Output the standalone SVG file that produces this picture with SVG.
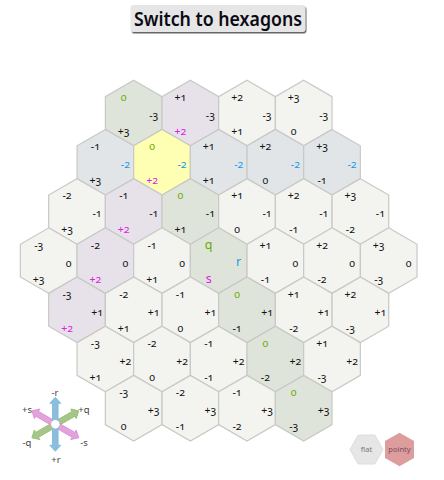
<svg xmlns="http://www.w3.org/2000/svg" width="444" height="480" viewBox="0 0 444 480">
<style>
text{font-family:"Noto Sans","Open Sans",sans-serif;font-variant-numeric:oldstyle-nums;font-size:10.5px;text-anchor:middle;fill:#111;stroke:none}
.h{fill:#f3f4f0;stroke:#c8c8c5;stroke-width:1.2}
.hq{fill:#dfe4da}.hr{fill:#e1e5e8}.hs{fill:#e7e2e9}.hy{fill:#ffffb3}
text.cq{fill:#6aaa00}text.cr{fill:#1a9ae8}text.cs{fill:#e020e0}
text.big{font-size:12.5px}
text.ax{font-size:9.5px;fill:#444}
text.btn{font-size:19.5px;font-weight:600;fill:#0a0a14}
</style>
<defs>
<polygon id="hex" points="0,-32.75 28.34,-16.37 28.34,16.37 0,32.75 -28.34,16.37 -28.34,-16.37"/>
<polygon id="arrow" points="-2.8,-5 -2.8,-21 -5.5,-21 0,-27 5.5,-21 2.8,-21 2.8,-5 2.8,5 2.8,21 5.5,21 0,27 -5.5,21 -2.8,21 -2.8,5"/>
<filter id="sh" x="-5%" y="-20%" width="110%" height="140%"><feDropShadow dx="1" dy="1.5" stdDeviation="0.6" flood-color="#666"/></filter>
</defs>
<g id="switch-button"><rect x="130.5" y="5" width="175" height="27" rx="3" fill="#e6e6e6" filter="url(#sh)"/><text class="btn" x="218" y="26" textLength="168" lengthAdjust="spacingAndGlyphs">Switch to hexagons</text></g>
<g id="hexes">
<g id="h0m3" class="h hq" transform="translate(133.7 113)"><use href="#hex"/><text class="cq" x="-10" y="-12">0</text><text x="20" y="6">-3</text><text x="-10" y="22">+3</text></g>
<g id="h1m3" class="h hs" transform="translate(190.4 113)"><use href="#hex"/><text x="-10" y="-12">+1</text><text x="20" y="6">-3</text><text class="cs" x="-10" y="22">+2</text></g>
<g id="h2m3" class="h" transform="translate(247 113)"><use href="#hex"/><text x="-10" y="-12">+2</text><text x="20" y="6">-3</text><text x="-10" y="22">+1</text></g>
<g id="h3m3" class="h" transform="translate(303.7 113)"><use href="#hex"/><text x="-10" y="-12">+3</text><text x="20" y="6">-3</text><text x="-10" y="22">0</text></g>
<g id="hm1m2" class="h hr" transform="translate(105.4 162.2)"><use href="#hex"/><text x="-10" y="-12">-1</text><text class="cr" x="20" y="6">-2</text><text x="-10" y="22">+3</text></g>
<g id="h0m2" class="h hy" transform="translate(162 162.2)"><use href="#hex"/><text class="cq" x="-10" y="-12">0</text><text class="cr" x="20" y="6">-2</text><text class="cs" x="-10" y="22">+2</text></g>
<g id="h1m2" class="h hr" transform="translate(218.7 162.2)"><use href="#hex"/><text x="-10" y="-12">+1</text><text class="cr" x="20" y="6">-2</text><text x="-10" y="22">+1</text></g>
<g id="h2m2" class="h hr" transform="translate(275.4 162.2)"><use href="#hex"/><text x="-10" y="-12">+2</text><text class="cr" x="20" y="6">-2</text><text x="-10" y="22">0</text></g>
<g id="h3m2" class="h hr" transform="translate(332 162.2)"><use href="#hex"/><text x="-10" y="-12">+3</text><text class="cr" x="20" y="6">-2</text><text x="-10" y="22">-1</text></g>
<g id="hm2m1" class="h" transform="translate(77 211.4)"><use href="#hex"/><text x="-10" y="-12">-2</text><text x="20" y="6">-1</text><text x="-10" y="22">+3</text></g>
<g id="hm1m1" class="h hs" transform="translate(133.7 211.4)"><use href="#hex"/><text x="-10" y="-12">-1</text><text x="20" y="6">-1</text><text class="cs" x="-10" y="22">+2</text></g>
<g id="h0m1" class="h hq" transform="translate(190.4 211.4)"><use href="#hex"/><text class="cq" x="-10" y="-12">0</text><text x="20" y="6">-1</text><text x="-10" y="22">+1</text></g>
<g id="h1m1" class="h" transform="translate(247 211.4)"><use href="#hex"/><text x="-10" y="-12">+1</text><text x="20" y="6">-1</text><text x="-10" y="22">0</text></g>
<g id="h2m1" class="h" transform="translate(303.7 211.4)"><use href="#hex"/><text x="-10" y="-12">+2</text><text x="20" y="6">-1</text><text x="-10" y="22">-1</text></g>
<g id="h3m1" class="h" transform="translate(360.4 211.4)"><use href="#hex"/><text x="-10" y="-12">+3</text><text x="20" y="6">-1</text><text x="-10" y="22">-2</text></g>
<g id="hm3z" class="h" transform="translate(48.7 260.6)"><use href="#hex"/><text x="-10" y="-12">-3</text><text x="20" y="6">0</text><text x="-10" y="22">+3</text></g>
<g id="hm2z" class="h hs" transform="translate(105.4 260.6)"><use href="#hex"/><text x="-10" y="-12">-2</text><text x="20" y="6">0</text><text class="cs" x="-10" y="22">+2</text></g>
<g id="hm1z" class="h" transform="translate(162 260.6)"><use href="#hex"/><text x="-10" y="-12">-1</text><text x="20" y="6">0</text><text x="-10" y="22">+1</text></g>
<g id="h0z" class="h hq" transform="translate(218.7 260.6)"><use href="#hex"/><text class="cq big" x="-10" y="-12">q</text><text class="cr big" x="20" y="5">r</text><text class="cs big" x="-10" y="22">s</text></g>
<g id="h1z" class="h" transform="translate(275.4 260.6)"><use href="#hex"/><text x="-10" y="-12">+1</text><text x="20" y="6">0</text><text x="-10" y="22">-1</text></g>
<g id="h2z" class="h" transform="translate(332 260.6)"><use href="#hex"/><text x="-10" y="-12">+2</text><text x="20" y="6">0</text><text x="-10" y="22">-2</text></g>
<g id="h3z" class="h" transform="translate(388.7 260.6)"><use href="#hex"/><text x="-10" y="-12">+3</text><text x="20" y="6">0</text><text x="-10" y="22">-3</text></g>
<g id="hm3p1" class="h hs" transform="translate(77 309.8)"><use href="#hex"/><text x="-10" y="-12">-3</text><text x="20" y="6">+1</text><text class="cs" x="-10" y="22">+2</text></g>
<g id="hm2p1" class="h" transform="translate(133.7 309.8)"><use href="#hex"/><text x="-10" y="-12">-2</text><text x="20" y="6">+1</text><text x="-10" y="22">+1</text></g>
<g id="hm1p1" class="h" transform="translate(190.4 309.8)"><use href="#hex"/><text x="-10" y="-12">-1</text><text x="20" y="6">+1</text><text x="-10" y="22">0</text></g>
<g id="h0p1" class="h hq" transform="translate(247 309.8)"><use href="#hex"/><text class="cq" x="-10" y="-12">0</text><text x="20" y="6">+1</text><text x="-10" y="22">-1</text></g>
<g id="h1p1" class="h" transform="translate(303.7 309.8)"><use href="#hex"/><text x="-10" y="-12">+1</text><text x="20" y="6">+1</text><text x="-10" y="22">-2</text></g>
<g id="h2p1" class="h" transform="translate(360.4 309.8)"><use href="#hex"/><text x="-10" y="-12">+2</text><text x="20" y="6">+1</text><text x="-10" y="22">-3</text></g>
<g id="hm3p2" class="h" transform="translate(105.4 359)"><use href="#hex"/><text x="-10" y="-12">-3</text><text x="20" y="6">+2</text><text x="-10" y="22">+1</text></g>
<g id="hm2p2" class="h" transform="translate(162 359)"><use href="#hex"/><text x="-10" y="-12">-2</text><text x="20" y="6">+2</text><text x="-10" y="22">0</text></g>
<g id="hm1p2" class="h" transform="translate(218.7 359)"><use href="#hex"/><text x="-10" y="-12">-1</text><text x="20" y="6">+2</text><text x="-10" y="22">-1</text></g>
<g id="h0p2" class="h hq" transform="translate(275.4 359)"><use href="#hex"/><text class="cq" x="-10" y="-12">0</text><text x="20" y="6">+2</text><text x="-10" y="22">-2</text></g>
<g id="h1p2" class="h" transform="translate(332 359)"><use href="#hex"/><text x="-10" y="-12">+1</text><text x="20" y="6">+2</text><text x="-10" y="22">-3</text></g>
<g id="hm3p3" class="h" transform="translate(133.7 408.2)"><use href="#hex"/><text x="-10" y="-12">-3</text><text x="20" y="6">+3</text><text x="-10" y="22">0</text></g>
<g id="hm2p3" class="h" transform="translate(190.4 408.2)"><use href="#hex"/><text x="-10" y="-12">-2</text><text x="20" y="6">+3</text><text x="-10" y="22">-1</text></g>
<g id="hm1p3" class="h" transform="translate(247 408.2)"><use href="#hex"/><text x="-10" y="-12">-1</text><text x="20" y="6">+3</text><text x="-10" y="22">-2</text></g>
<g id="h0p3" class="h hq" transform="translate(303.7 408.2)"><use href="#hex"/><text class="cq" x="-10" y="-12">0</text><text x="20" y="6">+3</text><text x="-10" y="22">-3</text></g>
</g>
<g id="axes">
<g transform="translate(55.3 424.3)">
<use href="#arrow" transform="rotate(60)" fill="#a6c48c" stroke="#8fc060" stroke-width="0.8"/>
<use href="#arrow" transform="rotate(-60)" fill="#e0a4d8" stroke="#e088e0" stroke-width="0.8"/>
<use href="#arrow" fill="#90bcd6" stroke="#66bbee" stroke-width="0.8"/>
<circle r="4.2" fill="#fff"/>
</g>
<text class="ax" x="55" y="396">-r</text><text class="ax" x="56" y="463">+r</text>
<text class="ax" x="84" y="413">+q</text><text class="ax" x="27" y="446">-q</text>
<text class="ax" x="27" y="413">+s</text><text class="ax" x="84" y="446">-s</text>
</g>
<g id="flat-button"><polygon points="350,449.5 358.2,435 374.8,435 383,449.5 374.8,464 358.2,464" fill="#e6e6e6" stroke="#ddd"/><text x="366.5" y="452" style="font-size:7.5px;fill:#777">flat</text></g>
<g id="pointy-button"><polygon points="399.5,432.7 414,441.1 414,457.9 399.5,466.3 385,457.9 385,441.1" fill="#dd9d9d"/><text x="399.5" y="452" style="font-size:7.5px;fill:#7a4a60">pointy</text></g>
</svg>
